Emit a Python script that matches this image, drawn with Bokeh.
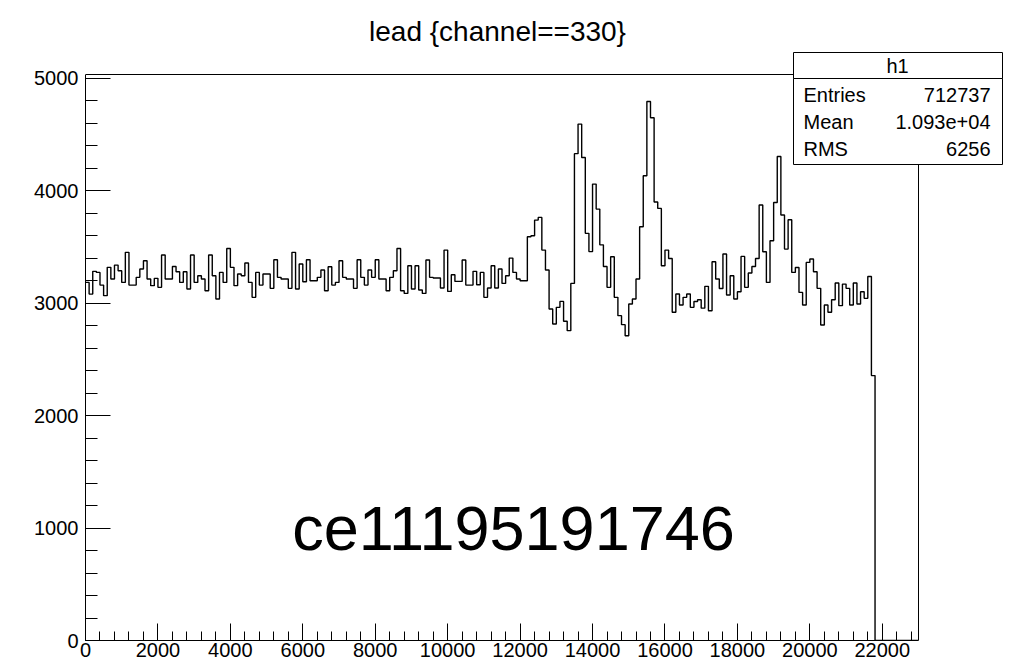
import numpy as np
from bokeh.plotting import figure
from bokeh.models import Range1d, SingleIntervalTicker, Label, BoxAnnotation
from bokeh.embed import file_html
from bokeh.resources import INLINE

# ---------------- data ----------------
BIN_WIDTH = 100
X_MIN, X_MAX = 0, 23000
Y_MAX = 5034

counts_0_4400 = [3185, 3081, 3283, 3274, 3161, 3067, 3319, 3215, 3339, 3289,
                 3185, 3452, 3161, 3161, 3230, 3304, 3378, 3215, 3156, 3221,
                 3141, 3428, 3215, 3215, 3327, 3280, 3185, 3280, 3126, 3428,
                 3185, 3244, 3215, 3111, 3428, 3244, 3037, 3274, 3185, 3487,
                 3319, 3156, 3259, 3244, 3357]
counts_4500_8700 = [3185, 3052, 3274, 3161, 3259, 3259, 3132, 3387, 3230, 3215,
                    3215, 3132, 3452, 3126, 3348, 3191, 3387, 3200, 3200, 3230,
                    3295, 3111, 3324, 3161, 3185, 3378, 3230, 3215, 3215, 3132,
                    3387, 3230, 3161, 3295, 3230, 3387, 3215, 3215, 3111, 3230,
                    3289, 3487, 3111]
counts_8800_13400 = [3087, 3333, 3126, 3333, 3117, 3087, 3384, 3230, 3224, 3224,
                     3135, 3472, 3105, 3253, 3194, 3194, 3384, 3161, 3161, 3283,
                     3164, 3274, 3052, 3135, 3333, 3135, 3304, 3176, 3244, 3401,
                     3274, 3215, 3200, 3200, 3591, 3600, 3739, 3763, 3472, 3295,
                     2948, 2815, 2963, 3016, 2840, 2756, 3176]
counts_13500_15700 = [4330, 4593, 4296, 3621, 3459, 4059, 3837, 3519, 3326, 3141,
                      3413, 3052, 2889, 2809, 2711, 2993, 3037, 3215, 3680, 4133,
                      4794, 4650, 3900]
counts_15800_17500 = [3843, 3333, 3472, 3398, 2919, 3082, 2984, 3052, 3082, 2963,
                      3015, 3030, 2956, 3150, 2933, 3369, 3215, 3131]
counts_17600_21700 = [3437, 3073, 3244, 3037, 3102, 3416, 3141, 3268, 3327, 3398,
                      3873, 3458, 3185, 3556, 3896, 4305, 3784, 3481, 3742, 3274,
                      3318, 3096, 2984, 3363, 3393, 3280, 3132, 2806, 2984, 2919,
                      3031, 3179, 2978, 3170, 3132, 2984, 3179, 2993, 3102, 3043,
                      3238, 2356]
counts_21800_23000 = [0, 0, 0, 0, 0, 0, 0, 0, 0, 0, 0, 0]

counts = (counts_0_4400 + counts_4500_8700 + counts_8800_13400 + counts_13500_15700
          + counts_15800_17500 + counts_17600_21700 + counts_21800_23000)
edges = X_MIN + BIN_WIDTH * np.arange(len(counts) + 1)

title_text = "lead {channel==330}"
stats_name = "h1"
stats_labels = ["Entries", "Mean", "RMS"]
stats_values = ["712737", "1.093e+04", "6256"]
watermark = "ce11195191746"

# ---------------- layout ----------------
W, H = 1012, 666
FL, FR, FT, FB = 85, 918, 74, 640   # visible histogram frame, page pixels
FONT = "Liberation Sans"

# The Bokeh frame covers the whole area right of the y axis and above the x axis,
# so that the stats box and title (outside the drawn ROOT frame) are not clipped.
x_view_max = X_MIN + (X_MAX - X_MIN) * (W - FL) / (FR - FL)
y_view_max = Y_MAX * FB / (FB - FT)

def sx(px):
    return px - FL

def sy(py):
    return FB - py

p = figure(width=W, height=H, output_backend="svg", toolbar_location=None,
           x_range=Range1d(X_MIN, x_view_max), y_range=Range1d(0, y_view_max),
           min_border_left=FL, min_border_right=0,
           min_border_top=0, min_border_bottom=H - FB,
           background_fill_color="white", border_fill_color="white")
p.grid.visible = False
p.outline_line_color = None

# visible frame (top and right edges)
p.segment(x0=[X_MIN, X_MAX], y0=[Y_MAX, 0], x1=[X_MAX, X_MAX], y1=[Y_MAX, Y_MAX],
          line_color="black", line_width=1)

p.step(x=edges, y=counts + [counts[-1]], mode="after", line_color="black", line_width=1.4)

for ax in (p.xaxis[0], p.yaxis[0]):
    ax.axis_line_color = "black"
    ax.major_tick_line_color = "black"
    ax.minor_tick_line_color = "black"
    ax.major_tick_out = 0
    ax.minor_tick_out = 0
    ax.major_label_text_font = FONT
    ax.major_label_text_font_size = "20px"
    ax.major_label_text_color = "black"

p.xaxis.bounds = (X_MIN, X_MAX)
p.yaxis.bounds = (0, Y_MAX)
p.xaxis.ticker = SingleIntervalTicker(interval=2000, num_minor_ticks=5)
p.yaxis.ticker = SingleIntervalTicker(interval=1000, num_minor_ticks=5)
p.xaxis.major_tick_in = 17
p.xaxis.minor_tick_in = 9
p.yaxis.major_tick_in = 25
p.yaxis.minor_tick_in = 12
p.xaxis.major_label_standoff = 2
p.yaxis.major_label_standoff = 7

# title
p.add_layout(Label(x=sx(497), y=sy(31), x_units="screen", y_units="screen",
                   text=title_text, text_align="center", text_baseline="middle",
                   text_font=FONT, text_font_size="28px", text_color="black"))

# big text
p.add_layout(Label(x=sx(513), y=sy(527), x_units="screen", y_units="screen",
                   text=watermark, text_align="center", text_baseline="middle",
                   text_font=FONT, text_font_size="63px", text_color="black"))

# stats box
box_kw = dict(left_units="screen", right_units="screen",
              top_units="screen", bottom_units="screen",
              fill_color="white", fill_alpha=1.0,
              line_color="black", line_width=1, line_alpha=1.0)
p.add_layout(BoxAnnotation(left=sx(793), right=sx(1002), top=sy(52), bottom=sy(78), **box_kw))
p.add_layout(BoxAnnotation(left=sx(793), right=sx(1002), top=sy(78), bottom=sy(164), **box_kw))
p.add_layout(Label(x=sx(897), y=sy(65), x_units="screen", y_units="screen",
                   text=stats_name, text_align="center", text_baseline="middle",
                   text_font=FONT, text_font_size="20px", text_color="black"))
for i, (lab, val) in enumerate(zip(stats_labels, stats_values)):
    cy = 94 + 27 * i
    p.add_layout(Label(x=sx(803), y=sy(cy), x_units="screen", y_units="screen",
                       text=lab, text_align="left", text_baseline="middle",
                       text_font=FONT, text_font_size="20px", text_color="black"))
    p.add_layout(Label(x=sx(990), y=sy(cy), x_units="screen", y_units="screen",
                       text=val, text_align="right", text_baseline="middle",
                       text_font=FONT, text_font_size="20px", text_color="black"))

open("out.html", "w").write(file_html(p, INLINE))
